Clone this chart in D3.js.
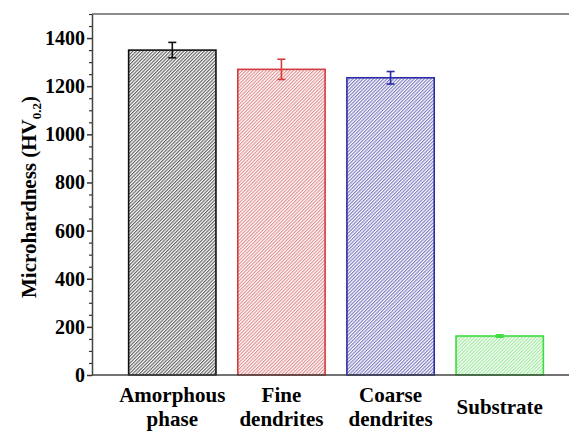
<!DOCTYPE html>
<html>
<head>
<meta charset="utf-8">
<script src="https://cdn.jsdelivr.net/npm/d3@7"></script>
<style>
  html, body { margin: 0; padding: 0; background: #fff; }
  svg { display: block; }
</style>
</head>
<body>
<div id="chart"></div>
<script>
// data
var categories = [['Amorphous', 'phase'], ['Fine', 'dendrites'], ['Coarse', 'dendrites'], ['Substrate']]
var hardness = [1350, 1270, 1235, 162]
var errors = [32, 42, 26, 5]
var barColors = ['#111111', '#d23c3c', '#2b2ba8', '#3ddc3d']
var hatchColors = ['#4a4a4a', '#dd8080', '#6a6ab8', '#8fe68f']
var yTicks = [0, 200, 400, 600, 800, 1000, 1200, 1400]

var serif = 'Liberation Serif'
var width = 569, height = 432
  , margin = { left: 92, top: 14, right: 0, bottom: 57 }
  , svg = d3.select('#chart').append('svg')
    .attr('width', width)
    .attr('height', height)
  , yScale = d3.scaleLinear()
    .domain([0, 1500])
    .range([height - margin.bottom, margin.top])
  , xScale = d3.scaleBand()
    .domain(d3.range(categories.length))
    .range([115, 557])
    .paddingInner(0.2)
    .paddingOuter(0.125)

// hatch patterns, one per bar
var defs = svg.append('defs')
hatchColors.forEach(function(c, i) {
  var p = defs.append('pattern')
    .attr('id', 'hatch' + i)
    .attr('patternUnits', 'userSpaceOnUse')
    .attr('width', 2.4)
    .attr('height', 2.4)
    .attr('patternTransform', 'rotate(45)')
  p.append('rect').attr('width', 2.4).attr('height', 2.4).attr('fill', '#fff')
  p.append('line')
    .attr('x1', 0.6).attr('y1', 0).attr('x2', 0.6).attr('y2', 2.4)
    .attr('stroke', c)
    .attr('stroke-width', 1)
})

// bars
svg.selectAll('rect.bar').data(hardness).enter().append('rect')
  .attr('class', 'bar')
  .attr('x', function(d, i) { return xScale(i) })
  .attr('y', function(d) { return yScale(d) })
  .attr('width', xScale.bandwidth())
  .attr('height', function(d) { return yScale(0) - yScale(d) })
  .attr('fill', function(d, i) { return 'url(#hatch' + i + ')' })
  .attr('stroke', function(d, i) { return barColors[i] })
  .attr('stroke-width', 1.6)

// error bars
hardness.forEach(function(d, i) {
  var cx = xScale(i) + xScale.bandwidth() / 2
    , g = svg.append('g')
      .attr('stroke', barColors[i])
      .attr('stroke-width', 1.6)
  g.append('line').attr('x1', cx).attr('x2', cx)
    .attr('y1', yScale(d - errors[i])).attr('y2', yScale(d + errors[i]))
  g.append('line').attr('x1', cx - 4).attr('x2', cx + 4)
    .attr('y1', yScale(d - errors[i])).attr('y2', yScale(d - errors[i]))
  g.append('line').attr('x1', cx - 4).attr('x2', cx + 4)
    .attr('y1', yScale(d + errors[i])).attr('y2', yScale(d + errors[i]))
})

// frame top line
svg.append('line')
  .attr('x1', margin.left).attr('x2', width)
  .attr('y1', yScale(1500)).attr('y2', yScale(1500))
  .attr('stroke', '#666').attr('stroke-width', 1.5)

// minor ticks
var minorAxis = d3.axisLeft(yScale)
  .tickValues(d3.range(0, 1501, 50).filter(function(v) { return v % 200 !== 0 }))
  .tickSize(3)
  .tickFormat('')
svg.append('g')
  .attr('transform', 'translate(' + margin.left + ',0)')
  .call(minorAxis)
  .call(function(g) { g.select('.domain').remove() })
  .selectAll('line').attr('stroke', '#333').attr('stroke-width', 1.2)

// y axis
var yAxis = d3.axisLeft(yScale)
  .tickValues(yTicks)
  .tickSize(5)
  .tickSizeOuter(0)
  .tickFormat(d3.format('d'))
svg.append('g')
  .attr('transform', 'translate(' + margin.left + ',0)')
  .call(yAxis)
  .attr('font-family', serif)
  .attr('font-size', 20)
  .attr('font-weight', 'bold')
  .call(function(g) {
    g.select('.domain').attr('stroke', '#444').attr('stroke-width', 1.5)
    g.selectAll('line').attr('stroke', '#333').attr('stroke-width', 1.5)
    g.selectAll('text')
      .attr('x', -7)
      .attr('font-family', serif)
      .attr('font-weight', 'bold')
      .attr('fill', '#000')
  })

// x axis line
svg.append('line')
  .attr('x1', margin.left).attr('x2', width)
  .attr('y1', yScale(0)).attr('y2', yScale(0))
  .attr('stroke', '#444').attr('stroke-width', 1.5)

// category labels
categories.forEach(function(lines, i) {
  var cx = xScale(i) + xScale.bandwidth() / 2
    , t = svg.append('text')
      .attr('text-anchor', 'middle')
      .attr('font-family', serif)
      .attr('font-size', 21)
      .attr('font-weight', 'bold')
  var y0 = lines.length === 1 ? 414 : 402
  lines.forEach(function(s, k) {
    t.append('tspan').attr('x', cx).attr('y', y0 + k * 24).text(s)
  })
})

// y title
var title = svg.append('text')
  .attr('transform', 'translate(36,197) rotate(-90)')
  .attr('text-anchor', 'middle')
  .attr('font-family', serif)
  .attr('font-size', 21)
  .attr('font-weight', 'bold')
title.append('tspan').text('Microhardness (HV')
title.append('tspan').attr('font-size', 13).attr('dy', 5).text('0.2')
title.append('tspan').attr('dy', -5).text(')')
</script>
</body>
</html>
